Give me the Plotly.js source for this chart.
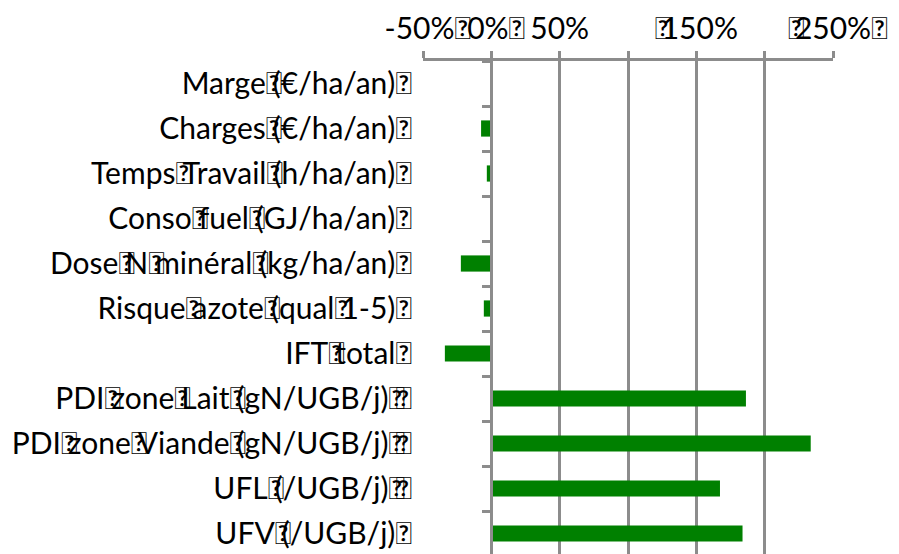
<!DOCTYPE html>
<html>
<head>
<meta charset="utf-8">
<script src="https://cdn.plot.ly/plotly-3.0.1.min.js"></script>
<style>
html,body{margin:0;padding:0;overflow:hidden;background:#fff;}
#chart{width:899px;height:556px;}
</style>
</head>
<body>
<div id="chart"></div>
<script>
const B = "<span style=\"letter-spacing:-9px\">\uE000</span>";
const categories = [
  "Marge" + B + "(€/ha/an)" + B,
  "Charges" + B + "(€/ha/an)" + B,
  "Temps" + B + "Travail" + B + "(h/ha/an)" + B,
  "Conso" + B + "fuel" + B + "(GJ/ha/an)" + B,
  "Dose" + B + "N" + B + "minéral" + B + "(kg/ha/an)" + B,
  "Risque" + B + "azote" + B + "(qual" + B + "1-5)" + B,
  "IFT" + B + "total" + B,
  "PDI" + B + "zone" + B + "Lait" + B + "(gN/UGB/j)" + B + B,
  "PDI" + B + "zone" + B + "Viande" + B + "(gN/UGB/j)" + B + B,
  "UFL" + B + "(/UGB/j)" + B + B,
  "UFV" + B + "(/UGB/j)" + B
];
const values = [0, -7.5, -3.3, 1, -22.3, -5.5, -34, 186.3, 233.7, 167.3, 183.8];
const tickVals = [-50, 0, 50, 100, 150, 200, 250];
const tickText = ["-50%" + B, "0%" + B, "50%", "", B + "150%", "", B + "250%" + B];

const grey = "#8c8c8c";
const fontFamily = "Lato, 'Open Sans', sans-serif";

const data = [{
  type: "bar",
  orientation: "h",
  x: values,
  y: categories,
  marker: {color: "#008000", line: {width: 0}},
  hoverinfo: "x+y"
}];

const layout = {
  width: 899,
  height: 556,
  margin: {l: 423, r: 66, t: 61, b: 0, pad: 0},
  paper_bgcolor: "#ffffff",
  plot_bgcolor: "#ffffff",
  showlegend: false,
  bargap: 0.64,
  font: {family: fontFamily, size: 30, color: "#000000"},
  xaxis: {
    side: "top",
    range: [-50, 250],
    automargin: false,
    tickangle: 0,
    tickmode: "array",
    tickvals: tickVals,
    ticktext: tickText,
    showgrid: true,
    gridcolor: grey,
    gridwidth: 3,
    zeroline: false,
    showline: true,
    linecolor: grey,
    linewidth: 3,
    ticks: "outside",
    ticklen: 7,
    tickwidth: 3,
    tickcolor: grey,
    tickfont: {family: fontFamily, size: 30, color: "#000000"}
  },
  yaxis: {
    type: "category",
    automargin: false,
    categoryorder: "array",
    categoryarray: categories,
    range: [10.5, -0.5],
    anchor: "free",
    position: 50 / 300,
    showgrid: false,
    zeroline: false,
    showline: true,
    linecolor: grey,
    linewidth: 3,
    ticks: "outside",
    tickson: "boundaries",
    ticklen: 8,
    tickwidth: 3,
    tickcolor: grey,
    ticklabelstandoff: 82,
    tickfont: {family: fontFamily, size: 30, color: "#000000"}
  }
};

Plotly.newPlot("chart", data, layout, {displayModeBar: false, staticPlot: true});
</script>
</body>
</html>
